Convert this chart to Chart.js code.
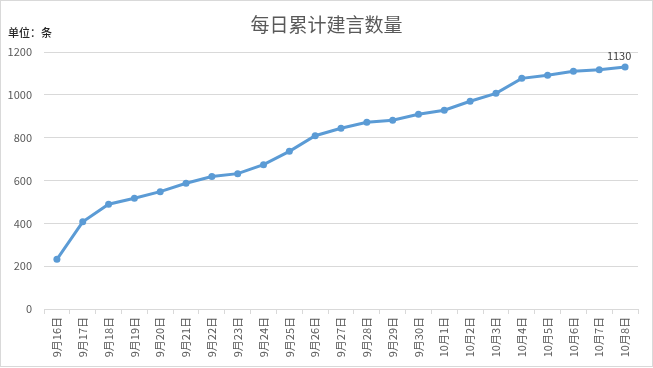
<!DOCTYPE html>
<html>
<head>
<meta charset="utf-8">
<script src="https://cdn.jsdelivr.net/npm/chart.js@4.4.1/dist/chart.umd.min.js"></script>
<style>
    body { margin: 0; background: #fff; }
    #wrap { width: 653px; height: 368px; }
</style>
</head>
<body>
<div id="wrap"><canvas id="myChart" width="653" height="368"></canvas></div>
<script>
var labels = ['9月16日', '9月17日', '9月18日', '9月19日', '9月20日', '9月21日', '9月22日', '9月23日',
    '9月24日', '9月25日', '9月26日', '9月27日', '9月28日', '9月29日', '9月30日',
    '10月1日', '10月2日', '10月3日', '10月4日', '10月5日', '10月6日', '10月7日', '10月8日'];
var counts = [232, 407, 489, 517, 548, 587, 619, 632, 674, 736, 809, 844, 872, 881, 909,
    928, 970, 1007, 1077, 1091, 1110, 1117, 1130];
var yTicks = [0, 200, 400, 600, 800, 1000, 1200];

var titleText = '每日累计建言数量';
var unitText = '单位：条';
var fontName = '"Microsoft YaHei", "Noto Sans CJK SC", sans-serif';

// background, border, title and unit text
var frame = {
    id: 'frame',
    beforeDraw: function (chart) {
        var c = chart.ctx;
        c.save();
        c.fillStyle = '#fff';
        c.fillRect(0, 0, chart.width, chart.height);
        c.strokeStyle = '#d9d9d9';
        c.lineWidth = 1;
        c.strokeRect(0.5, 0.5, chart.width - 1, chart.height - 2);
        c.fillStyle = '#595959';
        c.font = '19px ' + fontName;
        c.textAlign = 'center';
        c.textBaseline = 'middle';
        c.fillText(titleText, chart.width / 2, 25);
        c.fillStyle = '#262626';
        c.font = '500 11px ' + fontName;
        c.textAlign = 'left';
        c.fillText(unitText, 8, 33);
        c.restore();
    },
    afterDatasetsDraw: function (chart) {
        // label on the last point only
        var meta = chart.getDatasetMeta(0);
        var last = meta.data[meta.data.length - 1];
        var c = chart.ctx;
        c.save();
        c.fillStyle = '#404040';
        c.font = '11px ' + fontName;
        c.textAlign = 'center';
        c.textBaseline = 'bottom';
        c.fillText(String(counts[counts.length - 1]), last.x - 6, last.y - 6);
        c.restore();
    }
};

const ctx = document.getElementById('myChart').getContext('2d');
const myChart = new Chart(ctx, {
    type: 'line',
    data: {
        labels: labels,
        datasets: [{
            label: '建言数量',
            data: counts,
            borderColor: '#5b9bd5',
            backgroundColor: '#5b9bd5',
            borderWidth: 3,
            pointRadius: 3.5,
            pointHoverRadius: 3.5,
            pointBorderWidth: 0,
            tension: 0
        }]
    },
    options: {
        responsive: false,
        animation: false,
        layout: { padding: { top: 52, right: 15, bottom: 0, left: 0 } },
        plugins: {
            legend: { display: false },
            tooltip: { enabled: false }
        },
        scales: {
            x: {
                offset: true,
                grid: {
                    offset: true,
                    drawOnChartArea: false,
                    drawTicks: true,
                    tickLength: 5,
                    color: '#d9d9d9'
                },
                border: { color: '#d9d9d9' },
                ticks: {
                    autoSkip: false,
                    maxRotation: 90,
                    minRotation: 90,
                    padding: 3,
                    color: '#595959',
                    font: { size: 11, family: fontName }
                },
                afterFit: function (scale) { scale.height = 59; }
            },
            y: {
                min: 0,
                max: 1200,
                afterBuildTicks: function (scale) {
                    scale.ticks = yTicks.map(function (v) { return { value: v }; });
                },
                grid: { color: '#d9d9d9', drawTicks: false },
                border: { display: false },
                ticks: {
                    padding: 12,
                    color: '#595959',
                    font: { size: 11, family: fontName },
                    callback: function (value) { return String(value); }
                },
                afterFit: function (scale) { scale.width = 44; }
            }
        }
    },
    plugins: [frame]
});
</script>
</body>
</html>
